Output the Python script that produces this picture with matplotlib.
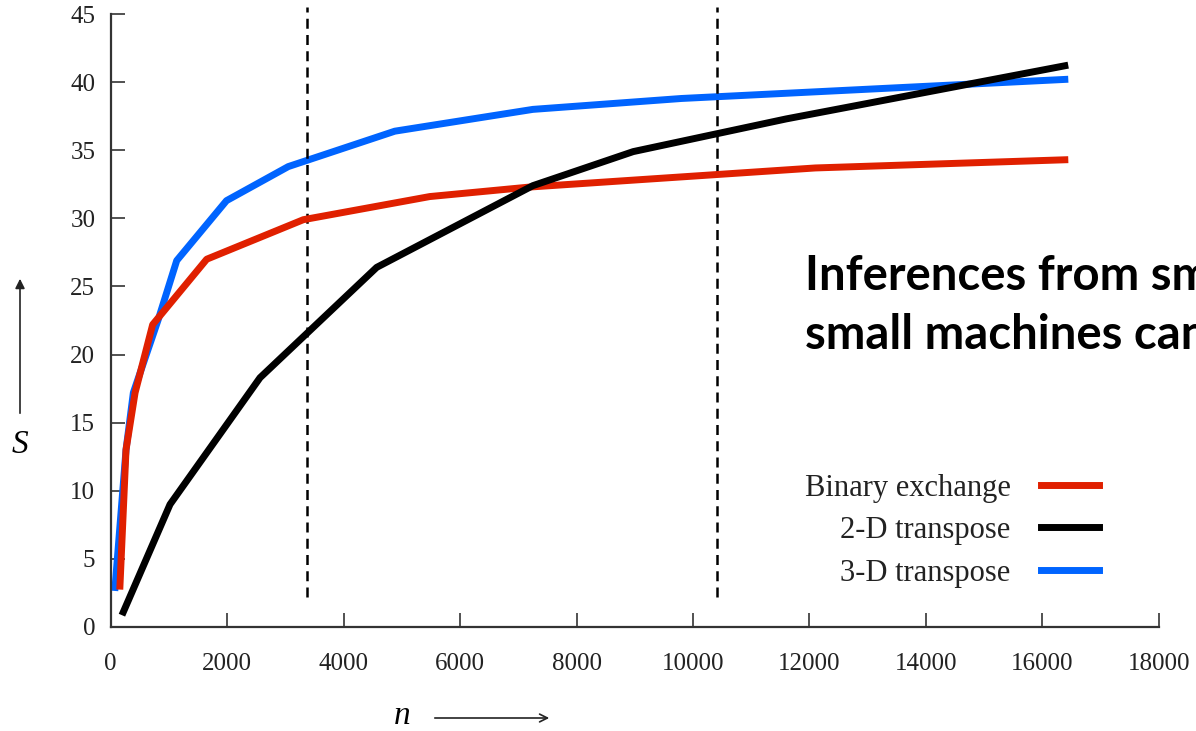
import numpy as np
import matplotlib
matplotlib.use('Agg')
import matplotlib.pyplot as plt

# speedup S vs problem size n
bin_n = [160, 264, 420, 722, 1650, 3308, 5480, 7200, 12100, 16384]
bin_S = [3.0, 13.0, 17.2, 22.2, 27.0, 29.9, 31.6, 32.3, 33.7, 34.3]

t2d_n = [218, 1020, 2565, 4568, 7250, 8973, 11600, 16384]
t2d_S = [1.1, 9.0, 18.3, 26.4, 32.4, 34.9, 37.3, 41.2]

t3d_n = [76, 264, 390, 820, 1135, 1990, 3050, 4880, 7250, 9800, 16384]
t3d_S = [2.9, 13.0, 17.2, 22.6, 26.9, 31.3, 33.8, 36.4, 38.0, 38.8, 40.2]

vlines_n = [3372, 10416]
xticks = np.arange(0, 18001, 2000)
yticks = np.arange(0, 46, 5)

serif = 'Liberation Serif'

fig = plt.figure(figsize=(11.96, 7.31), dpi=100)
ax = fig.add_axes([0.0925, 0.1423, 0.969 - 0.0925, 0.9808 - 0.1423])

ax.plot(bin_n, bin_S, color='#e02000', lw=5, label='Binary exchange', zorder=3)
ax.plot(t2d_n, t2d_S, color='black', lw=5, label='2-D transpose', zorder=3)
ax.plot(t3d_n, t3d_S, color='#0064ff', lw=5, label='3-D transpose', zorder=2)

for v in vlines_n:
    ax.plot([v, v], [2.2, 45.5], color='black', lw=1.8, ls=(0, (4, 2.5)), clip_on=False)

ax.set_xlim(0, 18000)
ax.set_ylim(0, 45)
ax.set_xticks(xticks)
ax.set_yticks(yticks)
ax.spines['top'].set_visible(False)
ax.spines['right'].set_visible(False)
for s in ['left', 'bottom']:
    ax.spines[s].set_linewidth(1.6)
    ax.spines[s].set_color('#333333')
ax.tick_params(axis='both', direction='in', length=10, width=1.2, color='#333333',
               labelsize=18)
ax.tick_params(axis='x', pad=19)
ax.tick_params(axis='y', pad=11)
for lab in ax.get_xticklabels() + ax.get_yticklabels():
    lab.set_family(serif)
    lab.set_color('#222222')

leg = ax.legend(loc='upper left', bbox_to_anchor=(0.6727, 0.352), bbox_transform=fig.transFigure,
                frameon=False, markerfirst=False, prop={'family': serif, 'size': 22},
                handlelength=1.9, handletextpad=1.0, labelspacing=0.44, borderpad=0,
                borderaxespad=0)
for t in leg.get_texts():
    t.set_color('#222222')

# axis labels with arrows
fig.text(20 / 1196, 1 - 445 / 731, 'S', family=serif, style='italic', fontsize=24,
         ha='center', va='center')
fig.text(402 / 1196, 1 - 716 / 731, 'n', family=serif, style='italic', fontsize=24,
         ha='center', va='center')
fig.patches.append(matplotlib.patches.FancyArrowPatch(
    (20 / 1196, 1 - 416 / 731), (20 / 1196, 1 - 276 / 731), transform=fig.transFigure,
    arrowstyle='-|>', mutation_scale=14, lw=1.2, color='#222222'))
fig.patches.append(matplotlib.patches.FancyArrowPatch(
    (432 / 1196, 1 - 718 / 731), (552 / 1196, 1 - 718 / 731), transform=fig.transFigure,
    arrowstyle='->', mutation_scale=14, lw=1.2, color='#222222'))

fig.text(805 / 1196, 1 - 290 / 731, 'Inferences from small problems on', family='Lato',
         weight='bold', fontsize=34, va='baseline', ha='left')
fig.text(805 / 1196, 1 - 348 / 731, 'small machines can be misleading', family='Lato',
         weight='bold', fontsize=34, va='baseline', ha='left')

plt.savefig('out.png', dpi=100)
plt.close()
